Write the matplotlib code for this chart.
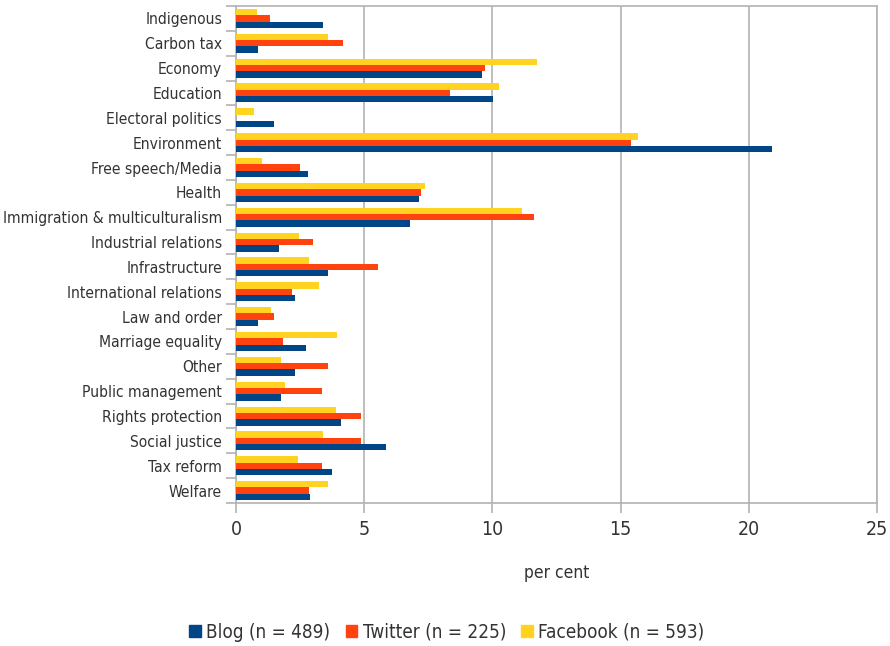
import matplotlib
matplotlib.use("Agg")
import matplotlib.pyplot as plt
import numpy as np
from matplotlib.patches import Patch
from matplotlib import font_manager as fm

categories = ["Indigenous", "Carbon tax", "Economy", "Education", "Electoral politics",
              "Environment", "Free speech/Media", "Health", "Immigration & multiculturalism",
              "Industrial relations", "Infrastructure", "International relations",
              "Law and order", "Marriage equality", "Other", "Public management",
              "Rights protection", "Social justice", "Tax reform", "Welfare"]
blog = [3.38, 0.85, 9.59, 10.03, 1.49, 20.89, 2.81, 7.14, 6.77, 1.66, 3.60, 2.31,
        0.87, 2.73, 2.31, 1.74, 4.11, 5.84, 3.74, 2.89]
twitter = [1.33, 4.17, 9.72, 8.36, 0.0, 15.42, 2.50, 7.20, 11.62, 3.01, 5.52, 2.18,
           1.50, 1.84, 3.59, 3.34, 4.86, 4.86, 3.34, 2.85]
facebook = [0.82, 3.58, 11.74, 10.25, 0.71, 15.67, 1.01, 7.37, 11.15, 2.45, 2.86, 3.24,
            1.37, 3.95, 1.76, 1.92, 3.89, 3.41, 2.40, 3.59]
series_labels = ["Blog (n = 489)", "Twitter (n = 225)", "Facebook (n = 593)"]
xticks = [0, 5, 10, 15, 20, 25]

colors = ["#004586", "#ff420e", "#ffd320"]
grid_c = "#b3b3b3"
text_c = "#333333"

names = {f.name for f in fm.fontManager.ttflist}
if "DejaVu Sans Condensed" in names:
    fam = "DejaVu Sans Condensed"
    stretch = "normal"
else:
    fam = "DejaVu Sans"
    stretch = "condensed"
plt.rcParams['font.family'] = [fam, 'DejaVu Sans']
plt.rcParams['font.stretch'] = stretch

fig = plt.figure(figsize=(8.9, 6.46), dpi=100)
ax = fig.add_axes([236/890, 1-503/646, (877-236)/890, (503-6)/646])

y = np.arange(len(categories))
h = 0.255
for vals, off, c in zip([blog, twitter, facebook], [h, 0, -h], colors):
    ax.barh(y + off, vals, height=h, color=c, zorder=3, linewidth=0)

ax.set_xlim(0, 25)
ax.set_ylim(len(categories) - 0.5, -0.5)
ax.set_xticks(xticks)
ax.set_xticklabels([str(t) for t in xticks], fontsize=14, color=text_c)
ax.set_yticks(y)
ax.set_yticklabels(categories, fontsize=11.2, color=text_c)
ax.set_yticks(np.arange(len(categories) + 1) - 0.5, minor=True)
ax.tick_params(axis='y', which='major', length=0, pad=10)
ax.tick_params(axis='y', which='minor', length=7, color=grid_c, width=1.2)
ax.tick_params(axis='x', which='major', length=7, color=grid_c, width=1.2, pad=5)
ax.xaxis.grid(True, color=grid_c, linewidth=1.2, zorder=0)
ax.set_axisbelow(True)
for s in ax.spines.values():
    s.set_color(grid_c)
    s.set_linewidth(1.2)

ax.set_xlabel("per cent", fontsize=12.5, color=text_c, labelpad=18)

handles = [Patch(color=c) for c in colors]
fig.legend(handles, series_labels, loc='center', bbox_to_anchor=(447/890, 1-632/646),
           ncol=3, frameon=False, fontsize=13.6, handlelength=0.6, handleheight=0.6,
           handletextpad=0.3, columnspacing=0.8, labelcolor=text_c)

fig.savefig("out.png", dpi=100, facecolor="white")
